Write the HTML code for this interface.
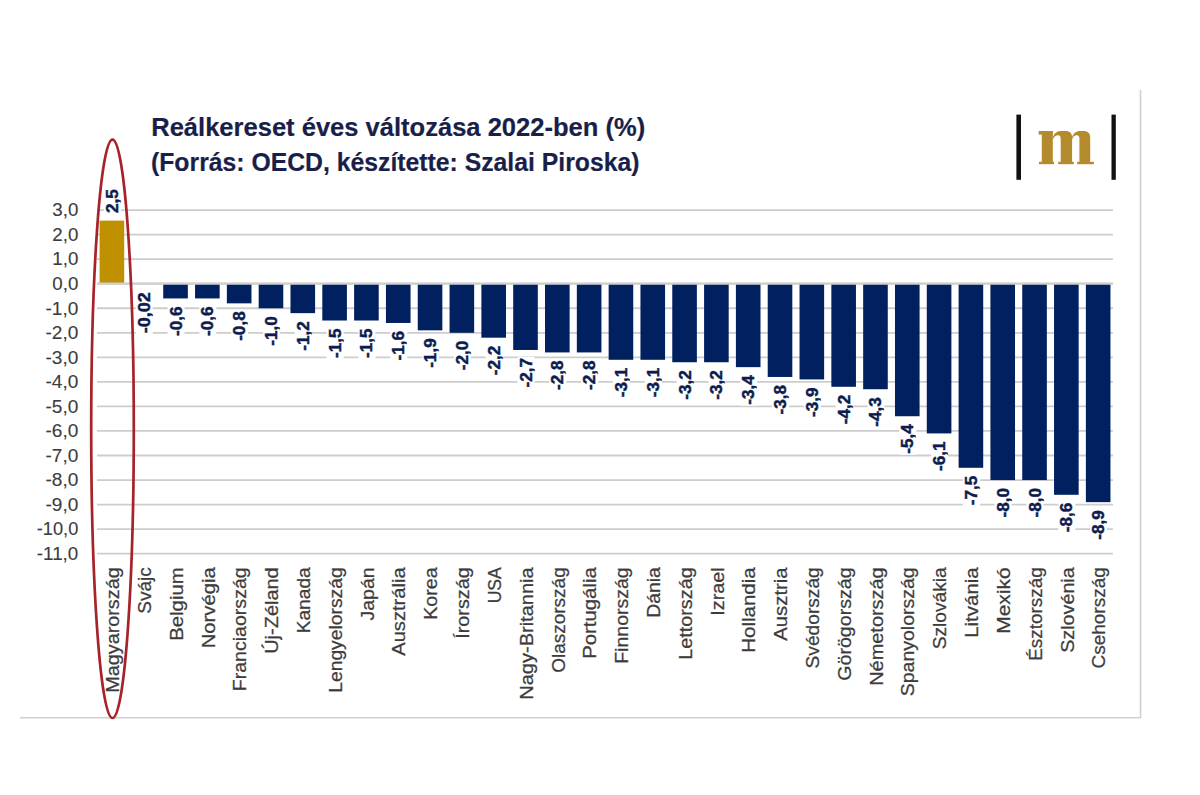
<!DOCTYPE html><html><head><meta charset="utf-8"><style>html,body{margin:0;padding:0;background:#fff;width:1200px;height:795px;overflow:hidden}svg{display:block}text{font-family:"Liberation Sans",sans-serif}</style></head><body>
<svg width="1200" height="795" viewBox="0 0 1200 795">
<rect x="0" y="0" width="1200" height="795" fill="#fff"/>
<line x1="1140.5" y1="90" x2="1140.5" y2="718" stroke="#d0d0d0" stroke-width="1.6"/>
<line x1="20" y1="717.7" x2="1140.5" y2="717.7" stroke="#d0d0d0" stroke-width="1.6"/>
<line x1="97" y1="210.06" x2="1113" y2="210.06" stroke="#cdcdcd" stroke-width="1.8"/>
<line x1="97" y1="234.61" x2="1113" y2="234.61" stroke="#cdcdcd" stroke-width="1.8"/>
<line x1="97" y1="259.15" x2="1113" y2="259.15" stroke="#cdcdcd" stroke-width="1.8"/>
<line x1="97" y1="283.70" x2="1113" y2="283.70" stroke="#cdcdcd" stroke-width="1.8"/>
<line x1="97" y1="308.25" x2="1113" y2="308.25" stroke="#cdcdcd" stroke-width="1.8"/>
<line x1="97" y1="332.79" x2="1113" y2="332.79" stroke="#cdcdcd" stroke-width="1.8"/>
<line x1="97" y1="357.33" x2="1113" y2="357.33" stroke="#cdcdcd" stroke-width="1.8"/>
<line x1="97" y1="381.88" x2="1113" y2="381.88" stroke="#cdcdcd" stroke-width="1.8"/>
<line x1="97" y1="406.43" x2="1113" y2="406.43" stroke="#cdcdcd" stroke-width="1.8"/>
<line x1="97" y1="430.97" x2="1113" y2="430.97" stroke="#cdcdcd" stroke-width="1.8"/>
<line x1="97" y1="455.51" x2="1113" y2="455.51" stroke="#cdcdcd" stroke-width="1.8"/>
<line x1="97" y1="480.06" x2="1113" y2="480.06" stroke="#cdcdcd" stroke-width="1.8"/>
<line x1="97" y1="504.61" x2="1113" y2="504.61" stroke="#cdcdcd" stroke-width="1.8"/>
<line x1="97" y1="529.15" x2="1113" y2="529.15" stroke="#cdcdcd" stroke-width="1.8"/>
<line x1="97" y1="553.69" x2="1113" y2="553.69" stroke="#cdcdcd" stroke-width="1.8"/>
<text x="78.3" y="216.37" font-size="17.5" fill="#3c3c3c" stroke="#3c3c3c" stroke-width="0.1" text-anchor="end" textLength="26" lengthAdjust="spacingAndGlyphs">3,0</text>
<text x="78.3" y="240.91" font-size="17.5" fill="#3c3c3c" stroke="#3c3c3c" stroke-width="0.1" text-anchor="end" textLength="26" lengthAdjust="spacingAndGlyphs">2,0</text>
<text x="78.3" y="265.45" font-size="17.5" fill="#3c3c3c" stroke="#3c3c3c" stroke-width="0.1" text-anchor="end" textLength="26" lengthAdjust="spacingAndGlyphs">1,0</text>
<text x="78.3" y="290.00" font-size="17.5" fill="#3c3c3c" stroke="#3c3c3c" stroke-width="0.1" text-anchor="end" textLength="26" lengthAdjust="spacingAndGlyphs">0,0</text>
<text x="78.3" y="314.55" font-size="17.5" fill="#3c3c3c" stroke="#3c3c3c" stroke-width="0.1" text-anchor="end" textLength="32.8" lengthAdjust="spacingAndGlyphs">-1,0</text>
<text x="78.3" y="339.09" font-size="17.5" fill="#3c3c3c" stroke="#3c3c3c" stroke-width="0.1" text-anchor="end" textLength="32.8" lengthAdjust="spacingAndGlyphs">-2,0</text>
<text x="78.3" y="363.63" font-size="17.5" fill="#3c3c3c" stroke="#3c3c3c" stroke-width="0.1" text-anchor="end" textLength="32.8" lengthAdjust="spacingAndGlyphs">-3,0</text>
<text x="78.3" y="388.18" font-size="17.5" fill="#3c3c3c" stroke="#3c3c3c" stroke-width="0.1" text-anchor="end" textLength="32.8" lengthAdjust="spacingAndGlyphs">-4,0</text>
<text x="78.3" y="412.73" font-size="17.5" fill="#3c3c3c" stroke="#3c3c3c" stroke-width="0.1" text-anchor="end" textLength="32.8" lengthAdjust="spacingAndGlyphs">-5,0</text>
<text x="78.3" y="437.27" font-size="17.5" fill="#3c3c3c" stroke="#3c3c3c" stroke-width="0.1" text-anchor="end" textLength="32.8" lengthAdjust="spacingAndGlyphs">-6,0</text>
<text x="78.3" y="461.81" font-size="17.5" fill="#3c3c3c" stroke="#3c3c3c" stroke-width="0.1" text-anchor="end" textLength="32.8" lengthAdjust="spacingAndGlyphs">-7,0</text>
<text x="78.3" y="486.36" font-size="17.5" fill="#3c3c3c" stroke="#3c3c3c" stroke-width="0.1" text-anchor="end" textLength="32.8" lengthAdjust="spacingAndGlyphs">-8,0</text>
<text x="78.3" y="510.91" font-size="17.5" fill="#3c3c3c" stroke="#3c3c3c" stroke-width="0.1" text-anchor="end" textLength="32.8" lengthAdjust="spacingAndGlyphs">-9,0</text>
<text x="78.3" y="535.45" font-size="17.5" fill="#3c3c3c" stroke="#3c3c3c" stroke-width="0.1" text-anchor="end" textLength="41.5" lengthAdjust="spacingAndGlyphs">-10,0</text>
<text x="78.3" y="559.99" font-size="17.5" fill="#3c3c3c" stroke="#3c3c3c" stroke-width="0.1" text-anchor="end" textLength="41.5" lengthAdjust="spacingAndGlyphs">-11,0</text>
<rect x="99.60" y="220.62" width="24.6" height="63.08" fill="#BF9000"/>
<rect x="163.23" y="283.70" width="24.6" height="14.73" fill="#002060"/>
<rect x="195.05" y="283.70" width="24.6" height="14.73" fill="#002060"/>
<rect x="226.86" y="283.70" width="24.6" height="19.64" fill="#002060"/>
<rect x="258.68" y="283.70" width="24.6" height="24.55" fill="#002060"/>
<rect x="290.49" y="283.70" width="24.6" height="29.45" fill="#002060"/>
<rect x="322.31" y="283.70" width="24.6" height="36.82" fill="#002060"/>
<rect x="354.12" y="283.70" width="24.6" height="36.82" fill="#002060"/>
<rect x="385.94" y="283.70" width="24.6" height="39.27" fill="#002060"/>
<rect x="417.75" y="283.70" width="24.6" height="46.64" fill="#002060"/>
<rect x="449.56" y="283.70" width="24.6" height="49.09" fill="#002060"/>
<rect x="481.38" y="283.70" width="24.6" height="54.00" fill="#002060"/>
<rect x="513.20" y="283.70" width="24.6" height="66.27" fill="#002060"/>
<rect x="545.01" y="283.70" width="24.6" height="68.73" fill="#002060"/>
<rect x="576.83" y="283.70" width="24.6" height="68.73" fill="#002060"/>
<rect x="608.64" y="283.70" width="24.6" height="76.09" fill="#002060"/>
<rect x="640.46" y="283.70" width="24.6" height="76.09" fill="#002060"/>
<rect x="672.27" y="283.70" width="24.6" height="78.54" fill="#002060"/>
<rect x="704.09" y="283.70" width="24.6" height="78.54" fill="#002060"/>
<rect x="735.90" y="283.70" width="24.6" height="83.45" fill="#002060"/>
<rect x="767.72" y="283.70" width="24.6" height="93.27" fill="#002060"/>
<rect x="799.53" y="283.70" width="24.6" height="95.73" fill="#002060"/>
<rect x="831.35" y="283.70" width="24.6" height="103.09" fill="#002060"/>
<rect x="863.16" y="283.70" width="24.6" height="105.54" fill="#002060"/>
<rect x="894.98" y="283.70" width="24.6" height="132.54" fill="#002060"/>
<rect x="926.79" y="283.70" width="24.6" height="149.72" fill="#002060"/>
<rect x="958.61" y="283.70" width="24.6" height="184.09" fill="#002060"/>
<rect x="990.42" y="283.70" width="24.6" height="196.36" fill="#002060"/>
<rect x="1022.24" y="283.70" width="24.6" height="196.36" fill="#002060"/>
<rect x="1054.05" y="283.70" width="24.6" height="211.09" fill="#002060"/>
<rect x="1085.87" y="283.70" width="24.6" height="218.45" fill="#002060"/>
<line x1="97" y1="283.70" x2="1113" y2="283.70" stroke="#cfcfcf" stroke-width="2.2"/>
<rect x="103.90" y="188.02" width="17" height="26.00" fill="#fff"/>
<text transform="translate(117.90,213.02) rotate(-90)" font-size="17" font-weight="bold" fill="#0c1c4e" stroke="#0c1c4e" stroke-width="0.45" textLength="24" lengthAdjust="spacingAndGlyphs">2,5</text>
<rect x="135.72" y="291.19" width="17" height="43.00" fill="#fff"/>
<text transform="translate(149.72,333.19) rotate(-90)" font-size="17" font-weight="bold" fill="#0c1c4e" stroke="#0c1c4e" stroke-width="0.45" textLength="41" lengthAdjust="spacingAndGlyphs">-0,02</text>
<rect x="167.53" y="305.43" width="17" height="31.50" fill="#fff"/>
<text transform="translate(181.53,335.93) rotate(-90)" font-size="17" font-weight="bold" fill="#0c1c4e" stroke="#0c1c4e" stroke-width="0.45" textLength="29.5" lengthAdjust="spacingAndGlyphs">-0,6</text>
<rect x="199.35" y="305.43" width="17" height="31.50" fill="#fff"/>
<text transform="translate(213.35,335.93) rotate(-90)" font-size="17" font-weight="bold" fill="#0c1c4e" stroke="#0c1c4e" stroke-width="0.45" textLength="29.5" lengthAdjust="spacingAndGlyphs">-0,6</text>
<rect x="231.16" y="310.34" width="17" height="31.50" fill="#fff"/>
<text transform="translate(245.16,340.84) rotate(-90)" font-size="17" font-weight="bold" fill="#0c1c4e" stroke="#0c1c4e" stroke-width="0.45" textLength="29.5" lengthAdjust="spacingAndGlyphs">-0,8</text>
<rect x="262.98" y="315.25" width="17" height="31.50" fill="#fff"/>
<text transform="translate(276.98,345.75) rotate(-90)" font-size="17" font-weight="bold" fill="#0c1c4e" stroke="#0c1c4e" stroke-width="0.45" textLength="29.5" lengthAdjust="spacingAndGlyphs">-1,0</text>
<rect x="294.79" y="320.15" width="17" height="31.50" fill="#fff"/>
<text transform="translate(308.79,350.65) rotate(-90)" font-size="17" font-weight="bold" fill="#0c1c4e" stroke="#0c1c4e" stroke-width="0.45" textLength="29.5" lengthAdjust="spacingAndGlyphs">-1,2</text>
<rect x="326.61" y="327.52" width="17" height="31.50" fill="#fff"/>
<text transform="translate(340.61,358.02) rotate(-90)" font-size="17" font-weight="bold" fill="#0c1c4e" stroke="#0c1c4e" stroke-width="0.45" textLength="29.5" lengthAdjust="spacingAndGlyphs">-1,5</text>
<rect x="358.42" y="327.52" width="17" height="31.50" fill="#fff"/>
<text transform="translate(372.42,358.02) rotate(-90)" font-size="17" font-weight="bold" fill="#0c1c4e" stroke="#0c1c4e" stroke-width="0.45" textLength="29.5" lengthAdjust="spacingAndGlyphs">-1,5</text>
<rect x="390.24" y="329.97" width="17" height="31.50" fill="#fff"/>
<text transform="translate(404.24,360.47) rotate(-90)" font-size="17" font-weight="bold" fill="#0c1c4e" stroke="#0c1c4e" stroke-width="0.45" textLength="29.5" lengthAdjust="spacingAndGlyphs">-1,6</text>
<rect x="422.05" y="337.34" width="17" height="31.50" fill="#fff"/>
<text transform="translate(436.05,367.84) rotate(-90)" font-size="17" font-weight="bold" fill="#0c1c4e" stroke="#0c1c4e" stroke-width="0.45" textLength="29.5" lengthAdjust="spacingAndGlyphs">-1,9</text>
<rect x="453.87" y="339.79" width="17" height="31.50" fill="#fff"/>
<text transform="translate(467.87,370.29) rotate(-90)" font-size="17" font-weight="bold" fill="#0c1c4e" stroke="#0c1c4e" stroke-width="0.45" textLength="29.5" lengthAdjust="spacingAndGlyphs">-2,0</text>
<rect x="485.68" y="344.70" width="17" height="31.50" fill="#fff"/>
<text transform="translate(499.68,375.20) rotate(-90)" font-size="17" font-weight="bold" fill="#0c1c4e" stroke="#0c1c4e" stroke-width="0.45" textLength="29.5" lengthAdjust="spacingAndGlyphs">-2,2</text>
<rect x="517.50" y="356.97" width="17" height="31.50" fill="#fff"/>
<text transform="translate(531.50,387.47) rotate(-90)" font-size="17" font-weight="bold" fill="#0c1c4e" stroke="#0c1c4e" stroke-width="0.45" textLength="29.5" lengthAdjust="spacingAndGlyphs">-2,7</text>
<rect x="549.31" y="359.43" width="17" height="31.50" fill="#fff"/>
<text transform="translate(563.31,389.93) rotate(-90)" font-size="17" font-weight="bold" fill="#0c1c4e" stroke="#0c1c4e" stroke-width="0.45" textLength="29.5" lengthAdjust="spacingAndGlyphs">-2,8</text>
<rect x="581.12" y="359.43" width="17" height="31.50" fill="#fff"/>
<text transform="translate(595.12,389.93) rotate(-90)" font-size="17" font-weight="bold" fill="#0c1c4e" stroke="#0c1c4e" stroke-width="0.45" textLength="29.5" lengthAdjust="spacingAndGlyphs">-2,8</text>
<rect x="612.94" y="366.79" width="17" height="31.50" fill="#fff"/>
<text transform="translate(626.94,397.29) rotate(-90)" font-size="17" font-weight="bold" fill="#0c1c4e" stroke="#0c1c4e" stroke-width="0.45" textLength="29.5" lengthAdjust="spacingAndGlyphs">-3,1</text>
<rect x="644.75" y="366.79" width="17" height="31.50" fill="#fff"/>
<text transform="translate(658.75,397.29) rotate(-90)" font-size="17" font-weight="bold" fill="#0c1c4e" stroke="#0c1c4e" stroke-width="0.45" textLength="29.5" lengthAdjust="spacingAndGlyphs">-3,1</text>
<rect x="676.57" y="369.24" width="17" height="31.50" fill="#fff"/>
<text transform="translate(690.57,399.74) rotate(-90)" font-size="17" font-weight="bold" fill="#0c1c4e" stroke="#0c1c4e" stroke-width="0.45" textLength="29.5" lengthAdjust="spacingAndGlyphs">-3,2</text>
<rect x="708.38" y="369.24" width="17" height="31.50" fill="#fff"/>
<text transform="translate(722.38,399.74) rotate(-90)" font-size="17" font-weight="bold" fill="#0c1c4e" stroke="#0c1c4e" stroke-width="0.45" textLength="29.5" lengthAdjust="spacingAndGlyphs">-3,2</text>
<rect x="740.20" y="374.15" width="17" height="31.50" fill="#fff"/>
<text transform="translate(754.20,404.65) rotate(-90)" font-size="17" font-weight="bold" fill="#0c1c4e" stroke="#0c1c4e" stroke-width="0.45" textLength="29.5" lengthAdjust="spacingAndGlyphs">-3,4</text>
<rect x="772.01" y="383.97" width="17" height="31.50" fill="#fff"/>
<text transform="translate(786.01,414.47) rotate(-90)" font-size="17" font-weight="bold" fill="#0c1c4e" stroke="#0c1c4e" stroke-width="0.45" textLength="29.5" lengthAdjust="spacingAndGlyphs">-3,8</text>
<rect x="803.83" y="386.43" width="17" height="31.50" fill="#fff"/>
<text transform="translate(817.83,416.93) rotate(-90)" font-size="17" font-weight="bold" fill="#0c1c4e" stroke="#0c1c4e" stroke-width="0.45" textLength="29.5" lengthAdjust="spacingAndGlyphs">-3,9</text>
<rect x="835.64" y="393.79" width="17" height="31.50" fill="#fff"/>
<text transform="translate(849.64,424.29) rotate(-90)" font-size="17" font-weight="bold" fill="#0c1c4e" stroke="#0c1c4e" stroke-width="0.45" textLength="29.5" lengthAdjust="spacingAndGlyphs">-4,2</text>
<rect x="867.46" y="396.24" width="17" height="31.50" fill="#fff"/>
<text transform="translate(881.46,426.74) rotate(-90)" font-size="17" font-weight="bold" fill="#0c1c4e" stroke="#0c1c4e" stroke-width="0.45" textLength="29.5" lengthAdjust="spacingAndGlyphs">-4,3</text>
<rect x="899.27" y="423.24" width="17" height="31.50" fill="#fff"/>
<text transform="translate(913.27,453.74) rotate(-90)" font-size="17" font-weight="bold" fill="#0c1c4e" stroke="#0c1c4e" stroke-width="0.45" textLength="29.5" lengthAdjust="spacingAndGlyphs">-5,4</text>
<rect x="931.09" y="440.42" width="17" height="31.50" fill="#fff"/>
<text transform="translate(945.09,470.92) rotate(-90)" font-size="17" font-weight="bold" fill="#0c1c4e" stroke="#0c1c4e" stroke-width="0.45" textLength="29.5" lengthAdjust="spacingAndGlyphs">-6,1</text>
<rect x="962.90" y="474.79" width="17" height="31.50" fill="#fff"/>
<text transform="translate(976.90,505.29) rotate(-90)" font-size="17" font-weight="bold" fill="#0c1c4e" stroke="#0c1c4e" stroke-width="0.45" textLength="29.5" lengthAdjust="spacingAndGlyphs">-7,5</text>
<rect x="994.72" y="487.06" width="17" height="31.50" fill="#fff"/>
<text transform="translate(1008.72,517.56) rotate(-90)" font-size="17" font-weight="bold" fill="#0c1c4e" stroke="#0c1c4e" stroke-width="0.45" textLength="29.5" lengthAdjust="spacingAndGlyphs">-8,0</text>
<rect x="1026.54" y="487.06" width="17" height="31.50" fill="#fff"/>
<text transform="translate(1040.54,517.56) rotate(-90)" font-size="17" font-weight="bold" fill="#0c1c4e" stroke="#0c1c4e" stroke-width="0.45" textLength="29.5" lengthAdjust="spacingAndGlyphs">-8,0</text>
<rect x="1058.35" y="501.79" width="17" height="31.50" fill="#fff"/>
<text transform="translate(1072.35,532.29) rotate(-90)" font-size="17" font-weight="bold" fill="#0c1c4e" stroke="#0c1c4e" stroke-width="0.45" textLength="29.5" lengthAdjust="spacingAndGlyphs">-8,6</text>
<rect x="1090.16" y="509.15" width="17" height="31.50" fill="#fff"/>
<text transform="translate(1104.16,539.65) rotate(-90)" font-size="17" font-weight="bold" fill="#0c1c4e" stroke="#0c1c4e" stroke-width="0.45" textLength="29.5" lengthAdjust="spacingAndGlyphs">-8,9</text>
<text transform="translate(119.10,692.80) rotate(-90)" font-size="18" fill="#3c3c3c" stroke="#3c3c3c" stroke-width="0.25" textLength="125.5" lengthAdjust="spacingAndGlyphs">Magyarország</text>
<text transform="translate(150.91,613.80) rotate(-90)" font-size="18" fill="#3c3c3c" stroke="#3c3c3c" stroke-width="0.25" textLength="46.5" lengthAdjust="spacingAndGlyphs">Svájc</text>
<text transform="translate(182.73,640.80) rotate(-90)" font-size="18" fill="#3c3c3c" stroke="#3c3c3c" stroke-width="0.25" textLength="73.5" lengthAdjust="spacingAndGlyphs">Belgium</text>
<text transform="translate(214.55,648.30) rotate(-90)" font-size="18" fill="#3c3c3c" stroke="#3c3c3c" stroke-width="0.25" textLength="81.0" lengthAdjust="spacingAndGlyphs">Norvégia</text>
<text transform="translate(246.36,691.30) rotate(-90)" font-size="18" fill="#3c3c3c" stroke="#3c3c3c" stroke-width="0.25" textLength="124.0" lengthAdjust="spacingAndGlyphs">Franciaország</text>
<text transform="translate(278.18,653.80) rotate(-90)" font-size="18" fill="#3c3c3c" stroke="#3c3c3c" stroke-width="0.25" textLength="86.5" lengthAdjust="spacingAndGlyphs">Új-Zéland</text>
<text transform="translate(309.99,633.30) rotate(-90)" font-size="18" fill="#3c3c3c" stroke="#3c3c3c" stroke-width="0.25" textLength="66.0" lengthAdjust="spacingAndGlyphs">Kanada</text>
<text transform="translate(341.81,692.80) rotate(-90)" font-size="18" fill="#3c3c3c" stroke="#3c3c3c" stroke-width="0.25" textLength="125.5" lengthAdjust="spacingAndGlyphs">Lengyelország</text>
<text transform="translate(373.62,620.50) rotate(-90)" font-size="18" fill="#3c3c3c" stroke="#3c3c3c" stroke-width="0.25" textLength="53.2" lengthAdjust="spacingAndGlyphs">Japán</text>
<text transform="translate(405.44,655.80) rotate(-90)" font-size="18" fill="#3c3c3c" stroke="#3c3c3c" stroke-width="0.25" textLength="88.5" lengthAdjust="spacingAndGlyphs">Ausztrália</text>
<text transform="translate(437.25,619.80) rotate(-90)" font-size="18" fill="#3c3c3c" stroke="#3c3c3c" stroke-width="0.25" textLength="52.5" lengthAdjust="spacingAndGlyphs">Korea</text>
<text transform="translate(469.06,638.80) rotate(-90)" font-size="18" fill="#3c3c3c" stroke="#3c3c3c" stroke-width="0.25" textLength="71.5" lengthAdjust="spacingAndGlyphs">Írország</text>
<text transform="translate(500.88,603.30) rotate(-90)" font-size="18" fill="#3c3c3c" stroke="#3c3c3c" stroke-width="0.25" textLength="36.0" lengthAdjust="spacingAndGlyphs">USA</text>
<text transform="translate(532.70,699.80) rotate(-90)" font-size="18" fill="#3c3c3c" stroke="#3c3c3c" stroke-width="0.25" textLength="132.5" lengthAdjust="spacingAndGlyphs">Nagy-Britannia</text>
<text transform="translate(564.51,672.80) rotate(-90)" font-size="18" fill="#3c3c3c" stroke="#3c3c3c" stroke-width="0.25" textLength="105.5" lengthAdjust="spacingAndGlyphs">Olaszország</text>
<text transform="translate(596.33,658.80) rotate(-90)" font-size="18" fill="#3c3c3c" stroke="#3c3c3c" stroke-width="0.25" textLength="91.5" lengthAdjust="spacingAndGlyphs">Portugália</text>
<text transform="translate(628.14,663.80) rotate(-90)" font-size="18" fill="#3c3c3c" stroke="#3c3c3c" stroke-width="0.25" textLength="96.5" lengthAdjust="spacingAndGlyphs">Finnország</text>
<text transform="translate(659.96,617.80) rotate(-90)" font-size="18" fill="#3c3c3c" stroke="#3c3c3c" stroke-width="0.25" textLength="50.5" lengthAdjust="spacingAndGlyphs">Dánia</text>
<text transform="translate(691.77,659.80) rotate(-90)" font-size="18" fill="#3c3c3c" stroke="#3c3c3c" stroke-width="0.25" textLength="92.5" lengthAdjust="spacingAndGlyphs">Lettország</text>
<text transform="translate(723.59,615.80) rotate(-90)" font-size="18" fill="#3c3c3c" stroke="#3c3c3c" stroke-width="0.25" textLength="48.5" lengthAdjust="spacingAndGlyphs">Izrael</text>
<text transform="translate(755.40,652.80) rotate(-90)" font-size="18" fill="#3c3c3c" stroke="#3c3c3c" stroke-width="0.25" textLength="85.5" lengthAdjust="spacingAndGlyphs">Hollandia</text>
<text transform="translate(787.22,640.80) rotate(-90)" font-size="18" fill="#3c3c3c" stroke="#3c3c3c" stroke-width="0.25" textLength="73.5" lengthAdjust="spacingAndGlyphs">Ausztria</text>
<text transform="translate(819.03,668.40) rotate(-90)" font-size="18" fill="#3c3c3c" stroke="#3c3c3c" stroke-width="0.25" textLength="101.1" lengthAdjust="spacingAndGlyphs">Svédország</text>
<text transform="translate(850.85,680.80) rotate(-90)" font-size="18" fill="#3c3c3c" stroke="#3c3c3c" stroke-width="0.25" textLength="113.5" lengthAdjust="spacingAndGlyphs">Görögország</text>
<text transform="translate(882.66,685.80) rotate(-90)" font-size="18" fill="#3c3c3c" stroke="#3c3c3c" stroke-width="0.25" textLength="118.5" lengthAdjust="spacingAndGlyphs">Németország</text>
<text transform="translate(914.48,696.30) rotate(-90)" font-size="18" fill="#3c3c3c" stroke="#3c3c3c" stroke-width="0.25" textLength="129.0" lengthAdjust="spacingAndGlyphs">Spanyolország</text>
<text transform="translate(946.29,649.30) rotate(-90)" font-size="18" fill="#3c3c3c" stroke="#3c3c3c" stroke-width="0.25" textLength="82.0" lengthAdjust="spacingAndGlyphs">Szlovákia</text>
<text transform="translate(978.11,637.80) rotate(-90)" font-size="18" fill="#3c3c3c" stroke="#3c3c3c" stroke-width="0.25" textLength="70.5" lengthAdjust="spacingAndGlyphs">Litvánia</text>
<text transform="translate(1009.92,633.80) rotate(-90)" font-size="18" fill="#3c3c3c" stroke="#3c3c3c" stroke-width="0.25" textLength="66.5" lengthAdjust="spacingAndGlyphs">Mexikó</text>
<text transform="translate(1041.74,660.80) rotate(-90)" font-size="18" fill="#3c3c3c" stroke="#3c3c3c" stroke-width="0.25" textLength="93.5" lengthAdjust="spacingAndGlyphs">Észtország</text>
<text transform="translate(1073.55,652.80) rotate(-90)" font-size="18" fill="#3c3c3c" stroke="#3c3c3c" stroke-width="0.25" textLength="85.5" lengthAdjust="spacingAndGlyphs">Szlovénia</text>
<text transform="translate(1105.37,668.40) rotate(-90)" font-size="18" fill="#3c3c3c" stroke="#3c3c3c" stroke-width="0.25" textLength="101.1" lengthAdjust="spacingAndGlyphs">Csehország</text>
<ellipse cx="112.5" cy="428.8" rx="21.3" ry="289.2" fill="none" stroke="#a52329" stroke-width="2.7"/>
<text x="151.2" y="135.5" font-size="26" font-weight="bold" fill="#1a1f4a" stroke="#1a1f4a" stroke-width="0.2" textLength="494" lengthAdjust="spacingAndGlyphs">Reálkereset éves változása 2022-ben (%)</text>
<text x="151" y="170.8" font-size="26" font-weight="bold" fill="#1a1f4a" stroke="#1a1f4a" stroke-width="0.2" textLength="488.5" lengthAdjust="spacingAndGlyphs">(Forrás: OECD, készítette: Szalai Piroska)</text>
<rect x="1016.4" y="114.6" width="4.6" height="65.2" fill="#111"/>
<rect x="1111.5" y="114.6" width="4.3" height="65.2" fill="#111"/>
<g fill="#b38b2d">
<rect x="1041.8" y="131" width="11" height="31.5"/>
<rect x="1038.7" y="131" width="14" height="3.6"/>
<rect x="1039" y="161.8" width="15" height="2.4"/>
<rect x="1058.2" y="161.8" width="15.6" height="2.4"/>
<rect x="1077.2" y="161.8" width="16.7" height="2.4"/>
<path d="M1052.8 137.5 C1054.2 132.6 1057.5 131 1062 131 L1065.5 131 C1070 131 1072.1 133.2 1072.1 137.5 L1072.1 162 L1060.7 162 L1060.7 138.6 C1060.7 136.3 1059.6 135.2 1058 135.2 C1055.8 135.2 1054 136.6 1052.8 139.5 Z"/>
<path d="M1072 137.5 C1073.4 132.6 1076.6 131 1081 131 L1083.5 131 C1088 131 1090.2 133.2 1090.2 137.5 L1090.2 162 L1079.4 162 L1079.4 138.6 C1079.4 136.3 1078.3 135.2 1076.7 135.2 C1074.6 135.2 1073 136.6 1072 139.5 Z"/>
</g>
</svg></body></html>
